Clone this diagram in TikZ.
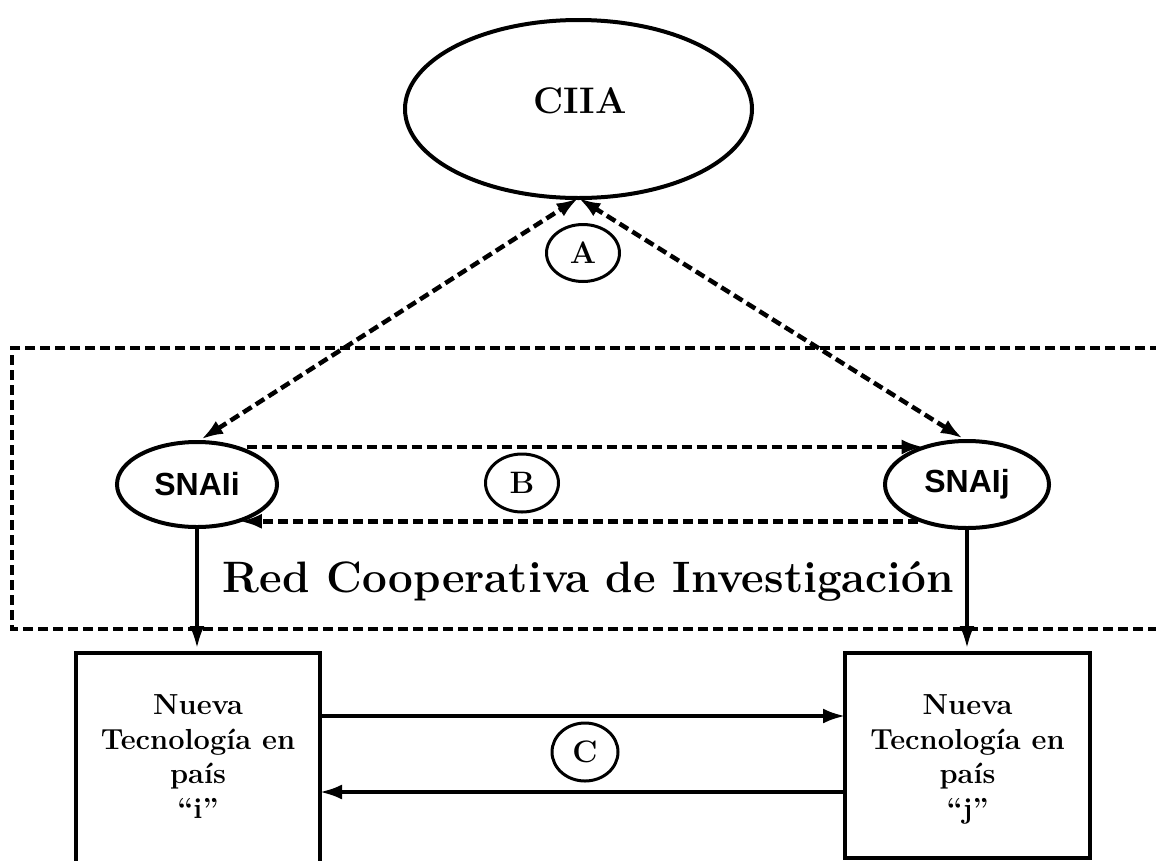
\documentclass[tikz,border=0pt]{standalone}
\usepackage{fontspec}
\newfontfamily\snafont{Liberation Sans}
\usetikzlibrary{arrows.meta,shapes.geometric,calc}
\begin{document}
\begin{tikzpicture}[x=1pt,y=-1pt,
  every node/.style={inner sep=0pt, outer sep=0pt},
  oval/.style={ellipse, draw, line width=4pt},
  smalloval/.style={ellipse, draw, line width=3pt, minimum width=73pt, minimum height=57pt, font=\fontsize{31}{36}\selectfont\bfseries},
  box/.style={rectangle, draw, line width=4.5pt, minimum width=244pt},
  tip/.style={-{Latex[length=22pt,width=15pt]}},
  twotip/.style={{Latex[length=22pt,width=15pt]}-{Latex[length=22pt,width=15pt]}},
  dashline/.style={line width=4.5pt, dash pattern=on 10pt off 5pt},
  solidline/.style={line width=3.5pt},
  sna/.style={font=\snafont\fontsize{32}{38}\selectfont\bfseries},
  boxtext/.style={font=\fontsize{29}{34.5}\selectfont\bfseries, align=center, anchor=north},
]
\useasboundingbox (0,0) rectangle (1156,860);

% nodes
\node[oval, minimum width=347pt, minimum height=178pt] (ciia) at (578.5,109) {};
\node[font=\fontsize{37}{40}\selectfont\bfseries] (ciiatext) at (580,100.5) {CIIA};
\node[smalloval] (a) at (583,253) {A};
\node[oval, minimum width=160pt, minimum height=85pt, sna] (snaii) at (197,484.5) {SNAIi};
\node[oval, minimum width=164pt, minimum height=87pt, sna] (snaij) at (967,484.5) {SNAIj};
\node[smalloval, minimum height=58pt] (b) at (522,483) {B};
\node[anchor=base, font=\fontsize{36}{40}\selectfont\bfseries] (red) at (588.5,592) {\resizebox{731pt}{!}{Red Cooperativa de Investigación}};
\node[box, minimum height=212pt] (lbox) at (198,759) {};
\node[box, minimum width=245pt, minimum height=205pt] (rbox) at (967.5,755.5) {};
\node[boxtext] (ltext) at (198,695) {Nueva\\Tecnología en\\país\\“i”};
\node[boxtext] (rtext) at (967.5,695) {Nueva\\Tecnología en\\país\\“j”};
\node[smalloval, minimum width=66pt, minimum height=58pt] (c) at (585,752) {C};

% frame of the cooperative network
\draw[dashline] (1160,348) -- (12,348) -- (12,629) -- (1160,629);

% A connectors
\draw[dashline, twotip, shorten <=5pt] (snaii.north) -- (ciia.south);
\draw[dashline, twotip, shorten <=5pt] (snaij.north) -- (ciia.south);

% B connectors
\draw[dashline, tip, shorten >=5pt] ([xshift=12pt]snaii.45) -- (snaii.45 -| snaij.135);
\draw[dashline, tip] ([xshift=-5pt]snaij.220) -- (snaij.220 -| snaii.-40);

% down connectors
\draw[solidline, tip, shorten >=5pt] (snaii.south) -- (snaii.south |- lbox.north);
\draw[solidline, tip, shorten >=5pt] (snaij.south) -- (snaij.south |- rbox.north);

% C connectors
\draw[solidline, tip] ($(lbox.north east)+(0,63)$) -- ($(rbox.north west)+(0,63)$);
\draw[solidline, tip] ($(rbox.north west)+(0,139)$) -- ($(lbox.north east)+(0,139)$);
\end{tikzpicture}
\end{document}
